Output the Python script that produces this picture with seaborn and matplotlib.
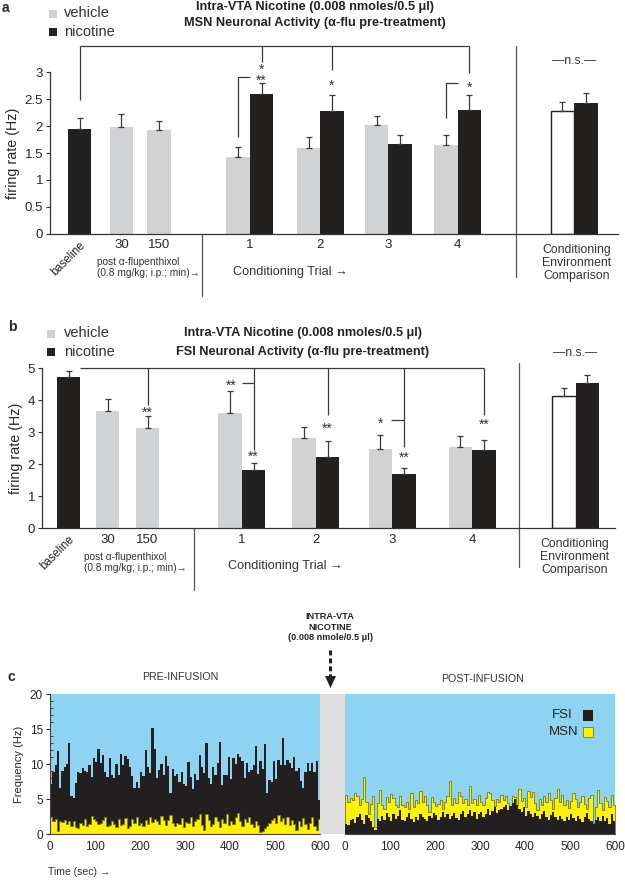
import numpy as np
import pandas as pd
import matplotlib.pyplot as plt
from matplotlib.patches import Rectangle, Polygon
from matplotlib.lines import Line2D
import seaborn as sns

sns.set_style("ticks")
plt.rcParams["font.family"] = ["Liberation Sans", "DejaVu Sans"]
TITLE_FONT = ["Liberation Sans Narrow", "Liberation Sans", "DejaVu Sans"]

W, H = 625, 880
GRAY = "#d1d2d4"
BLACK = "#231f20"
LINE = "#3a3a3a"

# ---- panel a: MSN firing rate (Hz) ----
msn_single = [1.95, 1.98, 1.92]          # baseline, 30, 150 min
msn_single_err = [0.20, 0.25, 0.18]
msn_trial_veh = [1.43, 1.60, 2.03, 1.64]
msn_trial_veh_err = [0.18, 0.19, 0.16, 0.20]
msn_trial_nic = [2.60, 2.29, 1.67, 2.31]
msn_trial_nic_err = [0.20, 0.29, 0.17, 0.27]
msn_env = [2.29, 2.43]                   # vehicle, nicotine
msn_env_err = [0.16, 0.19]

# ---- panel b: FSI firing rate (Hz) ----
fsi_single = [4.74, 3.67, 3.14]
fsi_single_err = [0.18, 0.36, 0.37]
fsi_trial_veh = [3.59, 2.81, 2.49, 2.53]
fsi_trial_veh_err = [0.71, 0.37, 0.43, 0.35]
fsi_trial_nic = [1.82, 2.24, 1.70, 2.46]
fsi_trial_nic_err = [0.21, 0.49, 0.18, 0.30]
fsi_env = [4.14, 4.54]
fsi_env_err = [0.25, 0.26]

single_labels = ["baseline", "30", "150"]
trial_labels = ["1", "2", "3", "4"]

# ---- panel c: 5-s bins, frequency (Hz) ----
fsi_pre = [7.2, 8.8, 9.8, 11.9, 6.6, 9.0, 9.6, 10.0, 13.0, 5.4,
           5.2, 7.3, 8.9, 8.7, 9.4, 9.0, 8.8, 9.8, 8.2, 10.9,
           10.3, 12.2, 10.2, 11.3, 8.8, 8.1, 10.8, 8.4, 8.0, 10.0,
           8.5, 11.5, 9.9, 11.2, 10.7, 9.6, 8.3, 6.6, 7.5, 6.6,
           8.9, 8.3, 12.0, 9.6, 8.7, 15.2, 12.2, 8.0, 9.2, 10.0,
           8.5, 11.2, 9.7, 5.8, 9.3, 8.3, 8.6, 7.4, 8.8, 7.1,
           6.8, 10.3, 8.2, 6.5, 8.6, 7.7, 11.3, 9.6, 8.7, 13.0,
           8.0, 7.2, 9.6, 8.5, 10.2, 13.2, 7.0, 8.4, 8.4, 11.0,
           7.8, 10.8, 10.0, 11.4, 11.0, 10.5, 8.0, 10.2, 8.8, 9.2,
           9.8, 12.6, 8.6, 10.5, 9.3, 12.8, 5.9, 7.7, 7.4, 10.4,
           7.9, 10.6, 9.8, 13.7, 9.9, 10.6, 10.2, 9.5, 11.0, 9.0,
           9.4, 7.6, 6.6, 8.9, 10.2, 9.0, 10.2, 8.8, 10.5, 4.9]
msn_pre = [2.4, 1.9, 2.2, 0.5, 1.8, 1.7, 2.0, 1.5, 1.8, 1.2,
           1.9, 1.0, 0.9, 1.6, 1.3, 2.1, 1.2, 1.5, 2.6, 2.1,
           1.8, 1.4, 1.6, 2.0, 2.4, 1.1, 1.3, 1.9, 1.5, 1.0,
           2.2, 1.3, 1.5, 2.3, 0.9, 1.1, 2.1, 1.6, 2.4, 1.3,
           1.6, 1.2, 2.0, 1.5, 2.5, 1.7, 2.2, 1.8, 1.5, 2.6,
           2.0, 1.3, 2.0, 2.7, 1.6, 1.2, 1.6, 1.4, 2.3, 1.0,
           1.7, 1.6, 2.5, 1.1, 1.8, 2.2, 2.8, 1.3, 0.6, 2.9,
           2.0, 1.1, 1.5, 2.4, 1.8, 1.0, 2.2, 1.6, 2.9, 1.3,
           1.8, 1.5, 2.5, 3.0, 1.9, 1.2, 2.1, 1.7, 2.4, 1.4,
           1.0, 1.8, 1.3, 0.3, 0.4, 0.8, 1.2, 1.6, 2.0, 2.3,
           1.6, 2.7, 1.9, 2.3, 1.5, 2.5, 1.3, 2.0, 1.4, 0.6,
           1.9, 1.1, 2.3, 1.5, 0.7, 1.6, 2.5, 1.2, 0.6, 2.1]
msn_post = [5.6, 4.6, 5.2, 4.8, 5.9, 5.4, 4.2, 5.0, 8.1, 4.6,
            2.8, 4.3, 5.4, 1.0, 4.4, 6.3, 4.2, 3.6, 5.3, 4.6,
            5.7, 5.1, 4.2, 3.8, 5.4, 4.1, 3.9, 4.6, 3.6, 5.9,
            3.8, 4.9, 4.4, 6.2, 4.6, 5.5, 4.1, 3.2, 5.3, 4.6,
            4.0, 4.3, 4.8, 3.6, 4.6, 5.5, 7.6, 4.2, 5.2, 4.4,
            6.0, 5.4, 4.5, 5.0, 4.2, 6.8, 4.5, 5.0, 4.1, 5.6,
            4.6, 4.2, 5.1, 6.0, 5.9, 4.8, 4.0, 5.0, 4.6, 5.6,
            4.8, 5.4, 4.4, 3.6, 5.5, 5.3, 4.2, 6.4, 4.7, 5.2,
            3.8, 6.2, 5.3, 6.0, 4.4, 3.4, 5.0, 4.2, 5.4, 4.6,
            5.9, 4.8, 3.6, 5.1, 6.5, 4.6, 5.6, 4.2, 4.9, 3.7,
            4.7, 5.9, 5.0, 3.9, 4.6, 5.4, 4.3, 3.6, 5.2, 5.6,
            1.6, 3.8, 6.3, 4.5, 3.4, 5.3, 4.7, 3.9, 5.6, 4.2]
fsi_post = [1.5, 1.3, 2.0, 2.2, 1.6, 2.5, 2.8, 2.0, 1.5, 2.7,
            2.3, 1.8, 1.0, 0.6, 2.2, 1.8, 2.6, 2.0, 3.0, 2.4,
            1.8, 2.8, 2.2, 2.6, 3.5, 2.0, 1.8, 2.5, 3.0, 2.2,
            1.7, 2.4, 2.0, 2.9, 2.5, 2.2, 1.8, 2.6, 2.3, 3.0,
            2.7, 2.0, 2.5, 3.2, 2.4, 2.8, 2.1, 2.6, 3.0, 2.3,
            2.0, 2.8, 3.3, 2.4, 2.9, 3.5, 2.6, 3.1, 2.2, 2.8,
            3.2, 2.5, 2.9, 3.6, 2.7, 3.3, 3.8, 3.0, 3.4, 3.6,
            3.9, 4.2, 3.5, 4.0, 4.4, 5.0, 4.2, 3.6, 3.2, 3.8,
            2.6, 3.3, 2.8, 2.4, 3.0, 2.6, 2.2, 2.9, 3.3, 2.5,
            2.0, 2.7, 3.1, 2.4, 2.0, 2.6, 2.2, 1.8, 2.5, 2.0,
            2.8, 2.3, 1.9, 2.6, 2.1, 1.7, 2.4, 3.0, 2.2, 1.8,
            1.4, 2.0, 2.5, 1.9, 2.6, 1.8, 2.3, 1.5, 2.8, 1.9]
BIN = 5


def px_axes(fig, left, top, right, bottom):
    return fig.add_axes([left / W, 1 - bottom / H, (right - left) / W, (bottom - top) / H])


def ftext(fig, x, y, s, **kw):
    fig.text(x / W, 1 - y / H, s, **kw)


def fsquare(fig, x0, y0, x1, y1, fc, ec="none", lw=0):
    fig.add_artist(Rectangle((x0 / W, 1 - y1 / H), (x1 - x0) / W, (y1 - y0) / H,
                             transform=fig.transFigure, fc=fc, ec=ec, lw=lw))


def bar_panel(ax, lay, single, single_err, veh, veh_err, nic, nic_err, env, env_err, ymax):
    rows = []
    for i, (v, e) in enumerate(zip(single, single_err)):
        rows.append((lay["single"][i], v, e, "nicotine" if i == 0 else "vehicle"))
    for i in range(4):
        rows.append((lay["veh"][i], veh[i], veh_err[i], "vehicle"))
        rows.append((lay["nic"][i], nic[i], nic_err[i], "nicotine"))
    rows.append((lay["env"][0], env[0], env_err[0], "env_vehicle"))
    rows.append((lay["env"][1], env[1], env_err[1], "nicotine"))
    df = pd.DataFrame(rows, columns=["pos", "rate", "err", "grp"])
    pal = {"vehicle": GRAY, "nicotine": BLACK, "env_vehicle": "white"}
    sns.barplot(data=df, x="pos", y="rate", hue="grp", palette=pal, native_scale=True,
                dodge=False, width=1.0, errorbar=None, legend=False, linewidth=0, ax=ax)
    for p in ax.patches:
        if p.get_facecolor()[0] > 0.99:
            p.set_edgecolor(BLACK)
            p.set_linewidth(1.0)
    ax.errorbar(df["pos"], df["rate"], yerr=[np.zeros(len(df)), df["err"]], fmt="none",
                ecolor=LINE, elinewidth=0.9, capsize=2.2, capthick=0.9, zorder=3)
    ax.set_xlim(0, lay["xmax"])
    ax.set_ylim(0, ymax)
    sns.despine(ax=ax)
    ax.spines["left"].set_bounds(0, ymax)
    for s in ("left", "bottom"):
        ax.spines[s].set_color("#333333")
        ax.spines[s].set_linewidth(0.9)
    pair_c = [(a + b) / 2 for a, b in zip(lay["veh"], lay["nic"])]
    ax.set_xticks(list(lay["single"]) + pair_c)
    ax.set_xticklabels(single_labels + trial_labels, fontsize=9.5)
    lab = ax.get_xticklabels()[0]
    lab.set_rotation(45)
    lab.set_ha("right")
    lab.set_rotation_mode("anchor")
    lab.set_fontsize(8.3)
    ax.tick_params(axis="x", length=0, pad=4)
    ax.tick_params(axis="y", length=3, width=0.8, labelsize=9.5, pad=2, color="#333333")
    ax.set_xlabel("")
    ax.set_ylabel("firing rate (Hz)", fontsize=10.3, labelpad=3)
    for xs, y0, y1 in lay["seps"]:
        ax.plot([xs, xs], [y0, y1], color="#555555", lw=0.9, clip_on=False)
    ax.text(sum(lay["env"]) / 2, lay["ns"], "\u2014n.s.\u2014", ha="center", va="center",
            fontsize=8.8, color="#333333", clip_on=False)
    return df


def seg(ax, xs, ys):
    ax.plot(xs, ys, color=LINE, lw=0.9, clip_on=False, solid_capstyle="butt")


def star(ax, x, y, s, **kw):
    ax.text(x, y, s, ha="center", va="center", fontsize=10, color="#333333", clip_on=False, **kw)


fig = plt.figure(figsize=(W / 100, H / 100), dpi=100)

# ---------------- panel a ----------------
lay_a = dict(single=[1.26, 3.04, 4.64], veh=[8.0, 11.0, 13.9, 16.85],
             nic=[9.0, 12.0, 14.9, 17.85], env=[21.8, 22.8], xmax=24.17,
             seps=[(6.47, 0, -1.16), (19.83, 3.49, -0.81)], ns=3.21)
ax_a = px_axes(fig, 50, 72.5, 618, 233.5)
bar_panel(ax_a, lay_a, msn_single, msn_single_err, msn_trial_veh, msn_trial_veh_err,
          msn_trial_nic, msn_trial_nic_err, msn_env, msn_env_err, 3)
ax_a.set_yticks([0, 0.5, 1, 1.5, 2, 2.5, 3])
ax_a.set_yticklabels(["0", "0.5", "1", "1.5", "2", "2.5", "3"])
top = 3.49
seg(ax_a, [1.26, 17.85], [top, top])
seg(ax_a, [1.26, 1.26], [top, 2.49])
seg(ax_a, [9.0, 9.0], [top, 3.2])
seg(ax_a, [12.0, 12.0], [top, 3.05])
seg(ax_a, [17.85, 17.85], [top, 2.99])
seg(ax_a, [8.0, 8.0, 8.5], [1.80, 2.92, 2.92])
seg(ax_a, [16.85, 16.85, 17.35], [2.15, 2.80, 2.80])
star(ax_a, 9.0, 2.95, "*\n**", linespacing=0.75)
star(ax_a, 12.0, 2.76, "*")
star(ax_a, 17.85, 2.71, "*")

ftext(fig, 2, 8, "a", fontsize=10, fontweight="bold", va="center")
fsquare(fig, 49, 10, 57, 18, GRAY)
fsquare(fig, 49, 28, 57, 36, BLACK)
ftext(fig, 64, 13, "vehicle", fontsize=10.5, va="center", color="#333333")
ftext(fig, 64, 32, "nicotine", fontsize=10.5, va="center", color="#333333")
ftext(fig, 315, 7, "Intra-VTA Nicotine (0.008 nmoles/0.5 \u03bcl)", fontsize=9.2,
      fontweight="bold", ha="center", va="center", family=TITLE_FONT, color="#222222")
ftext(fig, 315, 23, "MSN Neuronal Activity (\u03b1-flu pre-treatment)", fontsize=9.2,
      fontweight="bold", ha="center", va="center", family=TITLE_FONT, color="#222222")
ftext(fig, 97, 257, "post \u03b1-flupenthixol\n(0.8 mg/kg; i.p.; min)\u2192", fontsize=7.3,
      va="top", linespacing=1.1, color="#333333")
ftext(fig, 290, 272, "Conditioning Trial \u2192", fontsize=9.2, ha="center", va="center",
      color="#333333")
ftext(fig, 577, 263, "Conditioning\nEnvironment\nComparison", fontsize=8.8, ha="center",
      va="center", linespacing=1.1, color="#333333")

# ---------------- panel b ----------------
lay_b = dict(single=[1.13, 2.79, 4.49], veh=[8.0, 11.15, 14.4, 17.8],
             nic=[9.0, 12.15, 15.4, 18.8], env=[22.2, 23.2], xmax=24.38,
             seps=[(6.47, 0, -1.93), (20.3, 5.17, -1.21)], ns=5.48)
ax_b = px_axes(fig, 42, 368.3, 615, 528.3)
bar_panel(ax_b, lay_b, fsi_single, fsi_single_err, fsi_trial_veh, fsi_trial_veh_err,
          fsi_trial_nic, fsi_trial_nic_err, fsi_env, fsi_env_err, 5)
ax_b.set_yticks([0, 1, 2, 3, 4, 5])
top = 5.0
seg(ax_b, [1.63, 18.8], [top, top])
seg(ax_b, [4.49, 4.49], [top, 3.85])
seg(ax_b, [9.0, 9.0], [top, 2.45])
seg(ax_b, [8.51, 9.0], [4.54, 4.54])
seg(ax_b, [12.15, 12.15], [top, 3.54])
seg(ax_b, [15.4, 15.4], [top, 2.54])
seg(ax_b, [14.85, 15.4], [3.38, 3.38])
seg(ax_b, [18.8, 18.8], [top, 3.54])
star(ax_b, 4.49, 3.62, "**")
star(ax_b, 9.0, 2.24, "**")
star(ax_b, 8.05, 4.44, "**")
star(ax_b, 12.15, 3.12, "**")
star(ax_b, 15.4, 2.21, "**")
star(ax_b, 14.4, 3.27, "*")
star(ax_b, 18.8, 3.22, "**")

ftext(fig, 8, 327, "b", fontsize=10, fontweight="bold", va="center")
fsquare(fig, 47, 330, 55, 338, GRAY)
fsquare(fig, 47, 348, 55, 356, BLACK)
ftext(fig, 64, 333, "vehicle", fontsize=10.5, va="center", color="#333333")
ftext(fig, 64, 352, "nicotine", fontsize=10.5, va="center", color="#333333")
ftext(fig, 303, 333, "Intra-VTA Nicotine (0.008 nmoles/0.5 \u03bcl)", fontsize=9.2,
      fontweight="bold", ha="center", va="center", family=TITLE_FONT, color="#222222")
ftext(fig, 303, 352, "FSI Neuronal Activity (\u03b1-flu pre-treatment)", fontsize=9.2,
      fontweight="bold", ha="center", va="center", family=TITLE_FONT, color="#222222")
ftext(fig, 84, 552, "post \u03b1-flupenthixol\n(0.8 mg/kg; i.p.; min)\u2192", fontsize=7.3,
      va="top", linespacing=1.1, color="#333333")
ftext(fig, 285, 566, "Conditioning Trial \u2192", fontsize=9.2, ha="center", va="center",
      color="#333333")
ftext(fig, 575, 557, "Conditioning\nEnvironment\nComparison", fontsize=8.8, ha="center",
      va="center", linespacing=1.1, color="#333333")

# ---------------- panel c ----------------
SKY = "#8fd3f2"
YEL = "#fff200"


def hist_panel(ax, first, first_c, second, second_c):
    for vals, col in ((first, first_c), (second, second_c)):
        hdf = pd.DataFrame({"t": np.arange(len(vals)) * BIN + BIN / 2, "hz": vals})
        edges = list(np.arange(len(vals) + 1) * BIN)
        if col == YEL:
            kw = dict(edgecolor="#7a7a10", linewidth=0.6)
        else:
            kw = dict(linewidth=0)
        sns.histplot(data=hdf, x="t", weights="hz", bins=edges, element="step", fill=True,
                     color=col, alpha=1, ax=ax, **kw)
    ax.set_facecolor(SKY)
    ax.set_xlim(0, 600)
    ax.set_ylim(0, 20)
    ax.set_xticks(range(0, 601, 100))
    ax.set_xticks(range(50, 600, 100), minor=True)
    ax.tick_params(axis="x", which="major", length=0, labelsize=8.5, pad=5)
    ax.tick_params(axis="x", which="minor", direction="in", length=3, width=0.8)
    ax.set_xlabel("")
    ax.set_ylabel("")
    for s in ("top", "right"):
        ax.spines[s].set_visible(False)
    ax.spines["bottom"].set_color("#444444")


ax_pre = px_axes(fig, 50, 694, 320, 834)
hist_panel(ax_pre, fsi_pre, BLACK, msn_pre, YEL)
ax_pre.set_yticks([0, 5, 10, 15, 20])
ax_pre.set_yticks(range(0, 21), minor=True)
ax_pre.tick_params(axis="y", which="major", length=3, labelsize=8.5, pad=2)
ax_pre.tick_params(axis="y", which="minor", direction="in", length=2, width=0.6)
ax_pre.set_ylabel("Frequency (Hz)", fontsize=8, labelpad=4)
ax_pre.spines["left"].set_color("#444444")

ax_gap = px_axes(fig, 320, 694, 345, 834)
ax_gap.set_facecolor("#dedede")
ax_gap.set_xticks([])
ax_gap.set_yticks([])
for s in ax_gap.spines.values():
    s.set_visible(False)

ax_post = px_axes(fig, 345, 694, 615, 834)
hist_panel(ax_post, msn_post, YEL, fsi_post, BLACK)
ax_post.set_yticks([])
ax_post.spines["left"].set_visible(False)

ftext(fig, 8, 677, "c", fontsize=10, fontweight="bold", va="center")
ftext(fig, 180, 677, "PRE-INFUSION", fontsize=7.7, ha="center", va="center", color="#333333")
ftext(fig, 483, 679, "POST-INFUSION", fontsize=7.7, ha="center", va="center", color="#333333")
ftext(fig, 330, 627, "INTRA-VTA\nNICOTINE\n(0.008 nmole/0.5 \u03bcl)", fontsize=6.6,
      fontweight="bold", ha="center", va="center", linespacing=1.2, color="#222222")
fig.add_artist(Line2D([330 / W, 330 / W], [1 - 650 / H, 1 - 677 / H], transform=fig.transFigure,
                      color=BLACK, lw=2.2, ls=(0, (1.6, 1.0))))
fig.add_artist(Polygon([(325 / W, 1 - 676 / H), (336 / W, 1 - 676 / H), (330.5 / W, 1 - 688 / H)],
                       closed=True, transform=fig.transFigure, fc=BLACK, ec="none"))
ftext(fig, 48, 872, "Time (sec) \u2192", fontsize=7.5, va="center", color="#333333")
ftext(fig, 573, 715, "FSI", fontsize=9.5, ha="right", va="center", color="#222222")
ftext(fig, 579, 732, "MSN", fontsize=9.5, ha="right", va="center", color="#222222")
fsquare(fig, 583, 710, 593, 721, BLACK)
fsquare(fig, 583, 727, 593, 737, YEL, ec="#7a7a10", lw=0.6)

fig.savefig("out.png", dpi=100)
